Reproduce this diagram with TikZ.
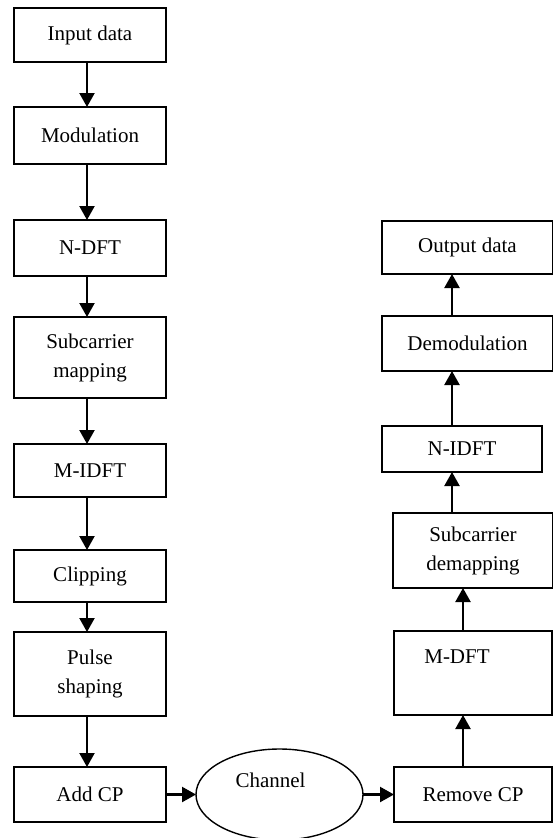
\documentclass[tikz,border=0pt]{standalone}
\usepackage{fontspec}
\setmainfont{Liberation Serif}
\usetikzlibrary{arrows.meta,positioning,shapes.geometric}

\begin{document}
\begin{tikzpicture}[x=1pt, y=1pt, every node/.style={font=\fontsize{21pt}{29pt}\selectfont}, box/.style={draw, line width=1.4pt, align=center, inner sep=2pt, outer sep=0pt}, lbox/.style={box, minimum width=152pt}, arr/.style={-{Triangle[length=14pt,width=15pt]}, line width=2.2pt}]
\useasboundingbox (0,0) rectangle (553,-838);
\node[lbox, minimum height=54pt] (input) at (90,-35) {Input data};
\node[lbox, minimum height=57pt, below=45pt of input] (modulation) {Modulation};
\node[lbox, minimum height=56pt, below=56pt of modulation] (ndft) {N-DFT};
\node[lbox, minimum height=81pt, below=41pt of ndft] (submap) {Subcarrier\\mapping};
\node[lbox, minimum height=53pt, below=46pt of submap] (midft) {M-IDFT};
\node[lbox, minimum height=52pt, below=53pt of midft] (clipping) {Clipping};
\node[lbox, minimum height=84pt, below=30pt of clipping] (pulse) {Pulse\\shaping};
\node[lbox, minimum height=55pt, below=51pt of pulse] (addcp) {Add CP};
\node[draw, ellipse, line width=1.4pt, outer sep=0pt, minimum width=167pt, minimum height=91pt, text height=15pt, text depth=30pt, right=30pt of addcp] (channel) {Channel\hspace*{18pt}};
\node[box, minimum width=158pt, minimum height=55pt, right=31pt of channel] (removecp) {Remove CP};
\node[box, minimum width=158pt, minimum height=83pt, text height=30pt, text depth=50pt, above=52pt of removecp] (mdft) {M-DFT\hspace*{32pt}};
\node[box, minimum width=160pt, minimum height=75pt, above=43pt of mdft] (subdemap) {Subcarrier\\demapping};
\node[box, minimum width=160pt, minimum height=46pt, above=41pt of subdemap, xshift=-11pt] (nidft) {N-IDFT};
\node[box, minimum width=171pt, minimum height=55pt, above=55pt of nidft, xshift=5.5pt] (demod) {Demodulation};
\node[box, minimum width=171pt, minimum height=53pt, above=42pt of demod] (output) {Output data};
\draw[arr] ([xshift=-3pt]input.south) -- ([xshift=-3pt]modulation.north); \draw[arr] ([xshift=-3pt]modulation.south) -- ([xshift=-3pt]ndft.north); \draw[arr] ([xshift=-3pt]ndft.south) -- ([xshift=-3pt]submap.north); \draw[arr] ([xshift=-3pt]submap.south) -- ([xshift=-3pt]midft.north); \draw[arr] ([xshift=-3pt]midft.south) -- ([xshift=-3pt]clipping.north); \draw[arr] ([xshift=-3pt]clipping.south) -- ([xshift=-3pt]pulse.north); \draw[arr] ([xshift=-3pt]pulse.south) -- ([xshift=-3pt]addcp.north);
\draw[arr] (addcp.east) -- (channel.west); \draw[arr] (channel.east) -- (removecp.west);
\draw[arr] ([xshift=-10pt]removecp.north) -- ([xshift=-10pt]mdft.south); \draw[arr] ([xshift=-10pt]mdft.north) -- ([xshift=-10pt]subdemap.south); \draw[arr] ([xshift=-10pt]nidft.south |- subdemap.north) -- ([xshift=-10pt]nidft.south); \draw[arr] ([xshift=-10pt]nidft.north) -- ([xshift=-10pt]nidft.north |- demod.south); \draw[arr] ([xshift=-10pt]nidft.north |- demod.north) -- ([xshift=-10pt]nidft.north |- output.south);
\end{tikzpicture}
\end{document}
